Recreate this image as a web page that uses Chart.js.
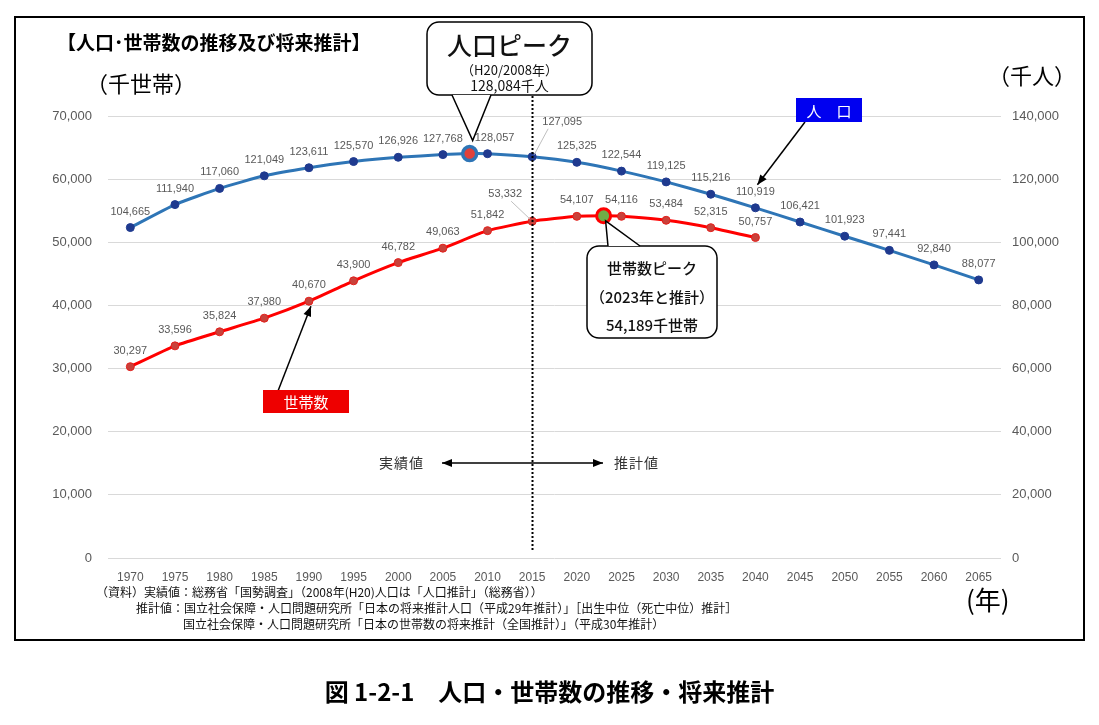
<!DOCTYPE html>
<html lang="ja">
<head>
<meta charset="utf-8">
<title>人口・世帯数の推移・将来推計</title>
<script src="https://cdn.jsdelivr.net/npm/chart.js@4.4.0/dist/chart.umd.min.js"></script>
<style>
	body {margin:0; background:#fff; width:1099px; height:725px; overflow:hidden; font-family:"Noto Sans CJK JP", sans-serif;}
	#frame {position:absolute; left:14px; top:16px; width:1067px; height:621px; border:2px solid #000;}
	#wrap {position:absolute; left:0; top:0; width:1099px; height:725px;}
	.t {position:absolute; white-space:nowrap; color:#000; line-height:1;}
	.note {font-size:12px; color:#111;}
</style>
</head>
<body>
<div id="frame"></div>
<div id="wrap"><canvas id="popChart" width="1099" height="725"></canvas></div>
<div class="t" style="left:57px; top:32px; font-size:19px; font-weight:bold;">【人口･世帯数の推移及び将来推計】</div>
<div class="t" style="left:86px; top:71px; font-size:22px;">（千世帯）</div>
<div class="t" style="left:988px; top:63px; font-size:22px;">（千人）</div>
<div class="t" style="left:966px; top:586px; font-size:26px;">(年)</div>
<div class="t" style="left:379px; top:455px; font-size:14px; letter-spacing:1px; color:#333;">実績値</div>
<div class="t" style="left:614px; top:455px; font-size:14px; letter-spacing:1px; color:#333;">推計値</div>
<div class="t note" style="left:96px; top:586px;">（資料）実績値：総務省「国勢調査」（2008年(H20)人口は「人口推計」（総務省））</div>
<div class="t note" style="left:136px; top:602px;">推計値：国立社会保障・人口問題研究所「日本の将来推計人口（平成29年推計）」［出生中位（死亡中位）推計］</div>
<div class="t note" style="left:183px; top:618px;">国立社会保障・人口問題研究所「日本の世帯数の将来推計（全国推計）」（平成30年推計）</div>
<div class="t" style="left:0; width:1099px; text-align:center; top:679px; font-size:24px; font-weight:bold;">図 1-2-1　人口・世帯数の推移・将来推計</div>
<script>
// 人口（千人）
var popYears = [1970, 1975, 1980, 1985, 1990, 1995, 2000, 2005, 2008, 2010, 2015, 2020, 2025, 2030, 2035, 2040, 2045, 2050, 2055, 2060, 2065];
var population = [104665, 111940, 117060, 121049, 123611, 125570, 126926, 127768, 128084, 128057, 127095, 125325, 122544, 119125, 115216, 110919, 106421, 101923, 97441, 92840, 88077];
// 世帯数（千世帯）
var hhYears = [1970, 1975, 1980, 1985, 1990, 1995, 2000, 2005, 2010, 2015, 2020, 2023, 2025, 2030, 2035, 2040];
var households = [30297, 33596, 35824, 37980, 40670, 43900, 46782, 49063, 51842, 53332, 54107, 54189, 54116, 53484, 52315, 50757];
// 目盛
var tickYears = [1970, 1975, 1980, 1985, 1990, 1995, 2000, 2005, 2010, 2015, 2020, 2025, 2030, 2035, 2040, 2045, 2050, 2055, 2060, 2065];
var popPeakYear = 2008;
var hhPeakYear = 2023;
var splitYear = 2015;

function fmt(v) {
	return Number(v).toLocaleString('en-US');
}
function toPoints(xs, ys) {
	return xs.map((x, i) => ({x: x, y: ys[i]}));
}
function arrow(ctx, x1, y1, x2, y2, both) {
	ctx.beginPath();
	ctx.moveTo(x1, y1);
	ctx.lineTo(x2, y2);
	ctx.stroke();
	head(ctx, x1, y1, x2, y2);
	if (both) head(ctx, x2, y2, x1, y1);
}
function head(ctx, x1, y1, x2, y2) {
	var a = Math.atan2(y2 - y1, x2 - x1);
	var l = 10, w = 4;
	ctx.beginPath();
	ctx.moveTo(x2, y2);
	ctx.lineTo(x2 - l * Math.cos(a) + w * Math.sin(a), y2 - l * Math.sin(a) - w * Math.cos(a));
	ctx.lineTo(x2 - l * Math.cos(a) - w * Math.sin(a), y2 - l * Math.sin(a) + w * Math.cos(a));
	ctx.closePath();
	ctx.fill();
}
function roundBox(ctx, x, y, w, h, r) {
	ctx.beginPath();
	ctx.roundRect(x, y, w, h, r);
	ctx.fillStyle = '#fff';
	ctx.fill();
	ctx.stroke();
}
// 吹き出し
function callout(ctx, box, bx1, bx2, by, tx, ty, lines) {
	ctx.save();
	ctx.strokeStyle = '#000';
	ctx.lineWidth = 1.5;
	roundBox(ctx, box[0], box[1], box[2], box[3], 12);
	ctx.beginPath();
	ctx.moveTo(bx1, by);
	ctx.lineTo(tx, ty);
	ctx.lineTo(bx2, by);
	ctx.closePath();
	ctx.fill();
	ctx.beginPath();
	ctx.moveTo(bx1, by);
	ctx.lineTo(tx, ty);
	ctx.lineTo(bx2, by);
	ctx.stroke();
	ctx.fillStyle = '#111';
	ctx.textAlign = 'center';
	ctx.textBaseline = 'middle';
	lines.forEach(l => {
		ctx.font = l[2];
		ctx.fillText(l[0], box[0] + box[2] / 2, l[1]);
	});
	ctx.restore();
}
function tagBox(ctx, x, y, w, h, color, text) {
	ctx.fillStyle = color;
	ctx.fillRect(x, y, w, h);
	ctx.fillStyle = '#fff';
	ctx.font = '15px "Noto Sans CJK JP"';
	ctx.textAlign = 'center';
	ctx.textBaseline = 'middle';
	ctx.fillText(text, x + w / 2, y + h / 2 + 1);
}

var labelPlugin = {
	id: 'labelPlugin',
	afterDatasetsDraw(chart) {
		const ctx = chart.ctx;
		ctx.save();
		ctx.font = '11px "Liberation Sans", Arial';
		ctx.fillStyle = '#595959';
		ctx.strokeStyle = '#bfbfbf';
		ctx.lineWidth = 1;
		ctx.textAlign = 'center';
		ctx.textBaseline = 'middle';
		chart.data.datasets.forEach((ds, di) => {
			const meta = chart.getDatasetMeta(di);
			meta.data.forEach((pt, i) => {
				const yr = ds.data[i].x;
				if (yr === popPeakYear || yr === hhPeakYear) return;
				let lx = pt.x, ly = pt.y - 16;
				if (yr === splitYear) {
					// 引き出し線付き
					if (di === 0) {
						lx = pt.x + 30; ly = pt.y - 35;
						ctx.beginPath(); ctx.moveTo(pt.x + 2, pt.y - 2); ctx.lineTo(lx - 14, ly + 7); ctx.stroke();
					} else {
						lx = pt.x - 27; ly = pt.y - 27;
						ctx.beginPath(); ctx.moveTo(pt.x - 2, pt.y - 2); ctx.lineTo(lx + 6, ly + 7); ctx.stroke();
					}
				} else if (di === 0 && yr === 2010) {
					lx = pt.x + 7;
				}
				ctx.fillText(fmt(ds.data[i].y), lx, ly);
			});
		});
		ctx.restore();
	},
	afterDraw(chart) {
		const ctx = chart.ctx;
		const xs = chart.scales.x, yl = chart.scales.y, yr = chart.scales.y2;
		ctx.save();
		// 実績値／推計値の境界
		const sx = Math.round(xs.getPixelForValue(splitYear)) + 0.5;
		ctx.strokeStyle = '#000';
		ctx.lineWidth = 2;
		ctx.setLineDash([2, 2]);
		ctx.beginPath();
		ctx.moveTo(sx, 96);
		ctx.lineTo(sx, yl.bottom - 6);
		ctx.stroke();
		ctx.setLineDash([]);
		ctx.lineWidth = 1.5;
		ctx.fillStyle = '#000';
		arrow(ctx, 442, 463, 603, 463, true);
		// 人口ピーク
		const pi = popYears.indexOf(popPeakYear);
		const px = xs.getPixelForValue(popPeakYear), py = yr.getPixelForValue(population[pi]);
		callout(ctx, [427, 22, 165, 73], 452, 491, 95, px + 3, py - 13, [
			['人口ピーク', 45, '500 25px "Noto Sans CJK JP"'],
			['（H20/' + popPeakYear + '年）', 70, '13px "Noto Sans CJK JP"'],
			[fmt(population[pi]) + '千人', 86, '14px "Noto Sans CJK JP"']
		]);
		// 世帯数ピーク
		const hi = hhYears.indexOf(hhPeakYear);
		const hx = xs.getPixelForValue(hhPeakYear), hy = yl.getPixelForValue(households[hi]);
		callout(ctx, [587, 246, 130, 92], 608, 640, 246, hx + 2, hy + 5, [
			['世帯数ピーク', 268, '500 15px "Noto Sans CJK JP"'],
			['（' + hhPeakYear + '年と推計）', 297, '500 15px "Noto Sans CJK JP"'],
			[fmt(households[hi]) + '千世帯', 325, '500 15px "Noto Sans CJK JP"']
		]);
		// 系列名
		ctx.strokeStyle = '#000';
		ctx.fillStyle = '#000';
		ctx.lineWidth = 1.5;
		const ax = xs.getPixelForValue(2040), ay = yr.getPixelForValue(population[popYears.indexOf(2040)]);
		arrow(ctx, 805, 122, ax + 2, ay - 23);
		tagBox(ctx, 796, 98, 66, 24, '#0000f0', '人　口');
		ctx.fillStyle = '#000';
		const bx = xs.getPixelForValue(1990), by = yl.getPixelForValue(households[hhYears.indexOf(1990)]);
		arrow(ctx, 278, 391, bx + 2, by + 5);
		tagBox(ctx, 263, 390, 86, 23, '#ee0000', '世帯数');
		ctx.restore();
	}
};

const ctx = document.getElementById('popChart').getContext('2d');
const tickFont = {family: '"Liberation Sans", Arial', size: 13};
const myChart = new Chart(ctx, {
	type: 'line',
	data: {
		datasets: [
			{
				label: '人口',
				data: toPoints(popYears, population),
				yAxisID: 'y2',
				borderColor: '#2e75b6',
				borderWidth: 3,
				pointRadius: c => c.raw && c.raw.x === popPeakYear ? 7 : 4,
				pointBackgroundColor: c => c.raw && c.raw.x === popPeakYear ? '#e0403a' : '#1f3a8f',
				pointBorderColor: c => c.raw && c.raw.x === popPeakYear ? '#2e75b6' : '#1f3a8f',
				pointBorderWidth: c => c.raw && c.raw.x === popPeakYear ? 3.5 : 1,
				tension: 0.15
			}, {
				label: '世帯数',
				data: toPoints(hhYears, households),
				yAxisID: 'y',
				borderColor: '#ff0000',
				borderWidth: 3,
				pointRadius: c => c.raw && c.raw.x === hhPeakYear ? 7 : 4,
				pointBackgroundColor: c => c.raw && c.raw.x === hhPeakYear ? '#70ad47' : '#c9413a',
				pointBorderColor: c => c.raw && c.raw.x === hhPeakYear ? '#ff0000' : '#e3201c',
				pointBorderWidth: c => c.raw && c.raw.x === hhPeakYear ? 3 : 1,
				tension: 0.15
			}
		]
	},
	options: {
		responsive: false,
		animation: false,
		layout: {padding: {top: 116, left: 0, right: 0, bottom: 0}},
		plugins: {
			legend: {display: false},
			tooltip: {enabled: false}
		},
		scales: {
			x: {
				type: 'linear',
				min: 1967.5,
				max: 2067.5,
				afterBuildTicks: s => { s.ticks = tickYears.map(v => ({value: v})); },
				afterFit: s => { s.height = 167; },
				grid: {display: false},
				border: {display: false},
				ticks: {padding: 4, color: '#595959', maxRotation: 0, autoSkip: false, font: {family: '"Liberation Sans", Arial', size: 12}, callback: v => String(v)}
			},
			y: {
				position: 'left',
				min: 0,
				max: 70000,
				afterFit: s => { s.width = 108; },
				grid: {color: '#d9d9d9', drawTicks: false},
				border: {display: false},
				ticks: {stepSize: 10000, padding: 16, color: '#595959', font: tickFont, callback: v => fmt(v)}
			},
			y2: {
				position: 'right',
				min: 0,
				max: 140000,
				afterFit: s => { s.width = 98; },
				grid: {display: false, drawTicks: false},
				border: {display: false},
				ticks: {stepSize: 20000, padding: 11, color: '#595959', font: tickFont, callback: v => fmt(v)}
			}
		}
	},
	plugins: [labelPlugin]
});
</script>
</body>
</html>
